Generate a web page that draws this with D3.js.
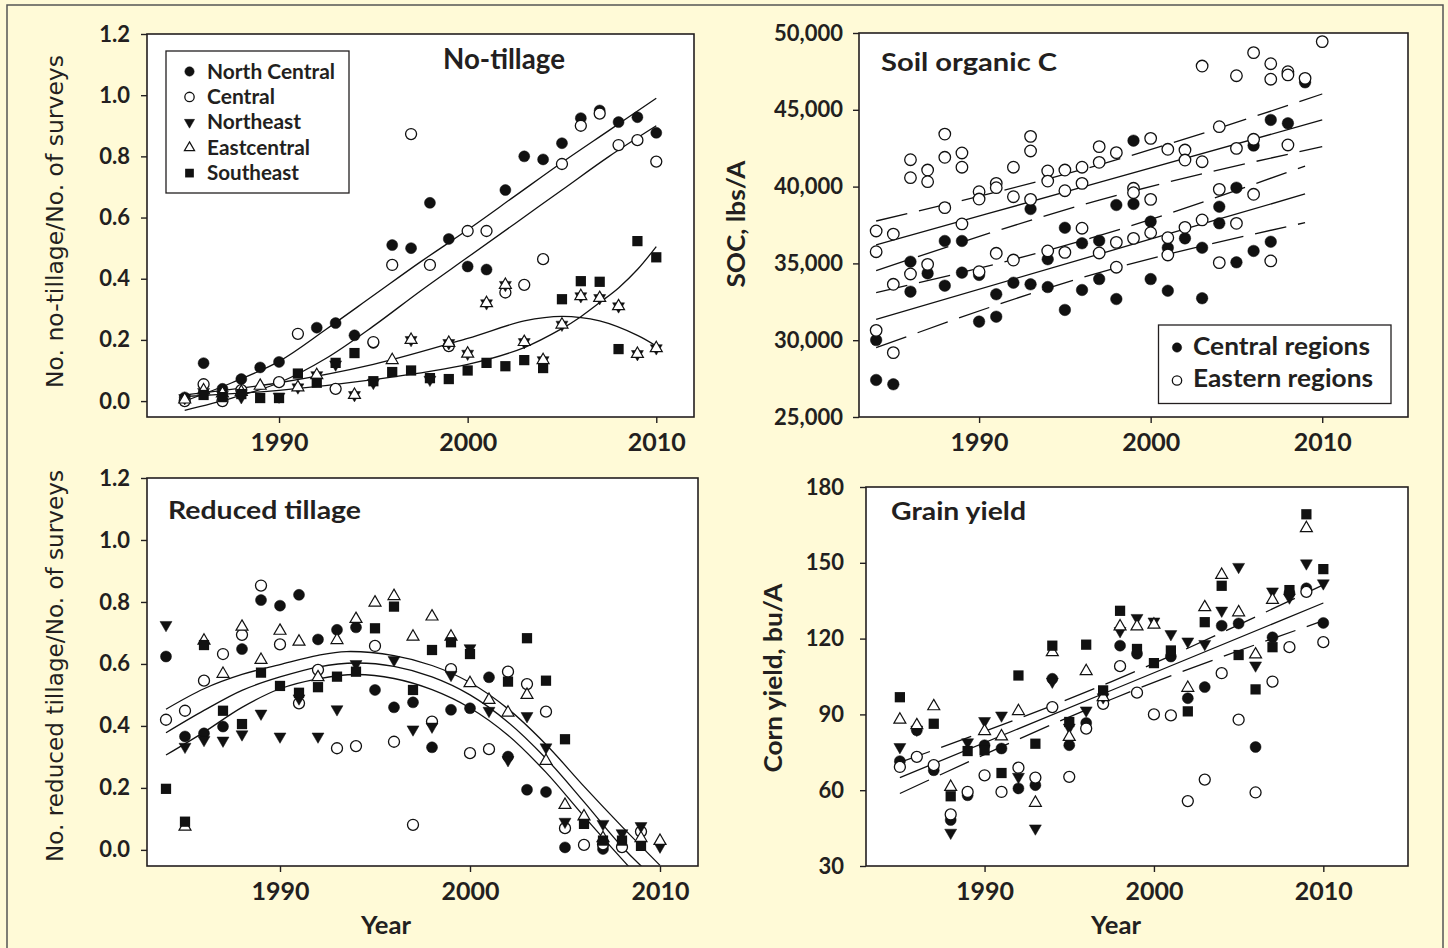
<!DOCTYPE html>
<html>
<head>
<meta charset="utf-8">
<script src="https://cdn.jsdelivr.net/npm/d3@7"></script>
<style>
  body { margin: 0; background: #fffad7; }
</style>
</head>
<body>
<svg width="1448" height="948"></svg>
<script>
// ---------- data: No-tillage (fraction of surveys) ----------
const ntYears = [1985, 1986, 1987, 1988, 1989, 1990, 1991, 1992, 1993, 1994, 1995, 1996, 1997,
  1998, 1999, 2000, 2001, 2002, 2003, 2004, 2005, 2006, 2007, 2008, 2009, 2010];
const ntNorthCentral = [0.012, 0.124, 0.04, 0.072, 0.11, 0.128, null, 0.24, 0.255, 0.215, 0.19, 0.51, 0.5,
  0.648, 0.53, 0.44, 0.43, 0.69, 0.8, 0.79, 0.843, 0.925, 0.95, 0.912, 0.928, 0.877];
const ntCentral = [0.0, 0.055, 0.0, 0.036, null, 0.062, 0.22, null, 0.04, null, 0.193, 0.445, 0.873,
  0.445, 0.18, 0.556, 0.556, 0.355, 0.38, 0.464, 0.775, 0.9, 0.94, 0.837, 0.853, 0.783];
const ntNortheast = [0.01, 0.03, 0.02, 0.013, null, 0.015, 0.045, 0.085, 0.12, 0.02, 0.06, null, 0.2,
  0.07, 0.19, 0.155, 0.32, 0.38, 0.193, 0.134, 0.25, 0.343, 0.337, 0.31, 0.154, 0.173];
const ntEastcentral = [0.005, 0.035, 0.025, 0.03, 0.05, null, 0.045, 0.085, null, 0.02, null, 0.134, 0.2,
  null, 0.19, 0.155, 0.32, 0.38, 0.193, 0.134, 0.25, 0.343, 0.337, 0.31, 0.154, 0.173];
const ntSoutheast = [null, 0.02, 0.013, 0.023, 0.01, 0.01, 0.09, 0.06, 0.125, 0.157, 0.065, 0.095, 0.1,
  0.075, 0.072, 0.1, 0.125, 0.114, 0.134, 0.108, 0.333, 0.392, 0.39, 0.17, 0.523, 0.47];
// fitted curves
const ntFitNC = [[1985, 0.0], [1987.5, 0.06], [1990, 0.13], [1992.5, 0.235], [1995, 0.345], [1997.5, 0.455],
  [2000, 0.56], [2002.5, 0.67], [2005, 0.78], [2007.5, 0.885], [2010, 0.99]];
const ntFitC = [[1985, -0.03], [1987.5, 0.01], [1990, 0.06], [1992.5, 0.14], [1995, 0.245], [1997.5, 0.36],
  [2000, 0.47], [2002.5, 0.58], [2005, 0.69], [2007.5, 0.8], [2010, 0.9]];
const ntFitHump = [[1985, 0.02], [1990, 0.06], [1995, 0.12], [2000, 0.205], [2003, 0.262], [2005, 0.277],
  [2007, 0.262], [2009, 0.215], [2010, 0.18]];
const ntFitSE = [[1985, 0.015], [1990, 0.035], [1995, 0.07], [2000, 0.12], [2003, 0.175], [2005, 0.237],
  [2006, 0.276], [2007, 0.322], [2008, 0.37], [2009, 0.43], [2010, 0.505]];

// ---------- data: Soil organic C (lbs/A) ----------
const socCentral = [[1984, 30010], [1984, 27410], [1985, 27130], [1986, 35110], [1986, 33160], [1987, 34350],
  [1988, 36460], [1988, 33550], [1989, 36460], [1989, 34400], [1990, 34250], [1990, 31210], [1991, 32990],
  [1991, 31530], [1992, 33740], [1993, 38540], [1993, 33640], [1994, 35270], [1994, 33460], [1995, 37320],
  [1995, 31970], [1996, 36310], [1996, 33270], [1997, 36480], [1997, 33980], [1998, 38800], [1998, 32680],
  [1999, 42990], [1999, 38870], [2000, 37720], [2000, 33980], [2001, 36020], [2001, 33220], [2002, 36630],
  [2003, 36020], [2003, 32730], [2004, 38690], [2004, 37610], [2005, 39930], [2005, 35070], [2006, 42670],
  [2006, 35810], [2007, 44340], [2007, 36410], [2008, 44120], [2009, 46790]];
const socEastern = [[1984, 37110], [1984, 35760], [1984, 30640], [1985, 36910], [1985, 33640], [1985, 29190],
  [1986, 41750], [1986, 40580], [1986, 34310], [1987, 41080], [1987, 40320], [1987, 34940], [1988, 43420],
  [1988, 41910], [1988, 38630], [1989, 42190], [1989, 41260], [1989, 37570], [1990, 39670], [1990, 39190],
  [1990, 34460], [1991, 40210], [1991, 39930], [1991, 35660], [1992, 41260], [1992, 39340], [1992, 35220],
  [1993, 43270], [1993, 42320], [1993, 39170], [1994, 41020], [1994, 40360], [1994, 35810], [1995, 41080],
  [1995, 39730], [1995, 35720], [1996, 41260], [1996, 40210], [1996, 37290], [1997, 42600], [1997, 41580],
  [1997, 35680], [1998, 42210], [1998, 36370], [1998, 34750], [1999, 39890], [1999, 39600], [1999, 36630],
  [2000, 43140], [2000, 39170], [2000, 37000], [2001, 42430], [2001, 36670], [2001, 35550], [2002, 42380],
  [2002, 41730], [2002, 37350], [2003, 47850], [2003, 41620], [2003, 37830], [2004, 43900], [2004, 39820],
  [2004, 35050], [2005, 47220], [2005, 42490], [2005, 37610], [2006, 48720], [2006, 43080], [2006, 39500],
  [2007, 48000], [2007, 46990], [2007, 35160], [2008, 47480], [2008, 47270], [2008, 42710], [2009, 47050],
  [2010, 49440]];
const socFitE = [[1984, 36200], [1997, 40270], [2010, 44340]];
const socBandEUp = [[1984, 37760], [1997, 41420], [2010, 46030]];
const socBandELo = [[1984, 34530], [1997, 39120], [2010, 42600]];
const socFitC = [[1984, 31360], [1996.5, 35440], [2009, 39520]];
const socBandCUp = [[1984, 33090], [1996.5, 36640], [2009, 41340]];
const socBandCLo = [[1984, 29510], [1996.5, 34240], [2009, 37650]];

// ---------- data: Reduced tillage ----------
const rtYears = [1984, 1985, 1986, 1987, 1988, 1989, 1990, 1991, 1992, 1993, 1994, 1995, 1996, 1997,
  1998, 1999, 2000, 2001, 2002, 2003, 2004, 2005, 2006, 2007, 2008, 2009, 2010];
const rtNorthCentral = [0.624, 0.366, 0.376, 0.398, 0.648, 0.806, 0.788, 0.823, 0.679, 0.71, 0.718, 0.516, 0.46,
  0.476, 0.331, 0.452, 0.457, 0.557, 0.301, 0.194, 0.187, 0.008, null, 0.003, null, null, null];
const rtCentral = [0.42, 0.449, 0.546, 0.632, 0.694, 0.853, 0.663, 0.473, 0.581, 0.328, 0.335, 0.658, 0.349,
  0.081, 0.414, 0.583, 0.312, 0.325, 0.575, 0.535, 0.446, 0.07, 0.016, 0.018, 0.009, 0.059, null];
const rtNortheast = [0.726, 0.333, 0.355, 0.353, 0.373, 0.44, 0.366, 0.489, 0.366, 0.454, 0.6, null, 0.613,
  0.389, 0.398, 0.565, 0.651, 0.449, 0.29, 0.432, 0.331, 0.091, null, 0.084, 0.054, 0.077, 0.011];
const rtEastcentral = [null, 0.075, 0.675, 0.568, 0.72, 0.613, 0.707, 0.672, 0.557, 0.677, 0.745, 0.798, 0.819,
  0.688, 0.753, 0.688, 0.538, 0.484, 0.443, 0.5, 0.287, 0.145, 0.108, 0.038, null, 0.038, 0.029];
const rtSoutheast = [0.197, 0.091, 0.661, 0.449, 0.406, 0.572, 0.529, 0.507, 0.525, 0.559, 0.575, 0.715, 0.785,
  0.516, 0.645, 0.67, 0.632, null, 0.543, 0.683, 0.546, 0.357, 0.084, 0.03, 0.03, 0.013, null];
const rtFitUpper = [[1984, 0.454], [1986, 0.52], [1988, 0.566], [1990, 0.598], [1992, 0.628], [1993.5, 0.64],
  [1996, 0.627], [1998, 0.595], [2000, 0.54], [2002, 0.455], [2004, 0.34], [2006, 0.205], [2008, 0.075], [2010, -0.05]];
const rtFitMid = [[1984, 0.378], [1986, 0.45], [1988, 0.515], [1990, 0.558], [1992, 0.59], [1994, 0.603],
  [1996, 0.592], [1998, 0.558], [2000, 0.5], [2002, 0.412], [2004, 0.295], [2006, 0.155], [2008, 0.01], [2009.5, -0.08]];
const rtFitLower = [[1984, 0.306], [1986, 0.38], [1988, 0.46], [1990, 0.52], [1992, 0.552], [1994, 0.566],
  [1996, 0.553], [1998, 0.517], [2000, 0.458], [2002, 0.37], [2004, 0.25], [2006, 0.108], [2008, -0.03], [2008.6, -0.07]];

// ---------- data: Grain yield (bu/A) ----------
const gyYears = ntYears;
const gyNorthCentral = [71.5, 83.7, 67.9, 48.2, 58, 77.8, 76.5, 60.7, 62, 104.1, 77.8, 86.6, null,
  117.2, 114, null, 112.9, 96.4, 100.8, 125.1, 126, 77.1, 120.5, 138, 139.9, 126.2];
const gyCentral = [69.2, 73.2, 69.9, 50.4, 59.3, 65.9, 59.3, 68.9, 65, 92.9, 65.3, 84.4, 94.2,
  109.1, 98.6, 90, 89.6, 55.7, 64.2, 106.3, 87.9, 59.1, 103, 116.6, 138.5, 118.6];
const gyNortheast = [77.1, 84, null, 43.2, 79, 87.4, 89.6, 65.3, 44.9, 103, 84.8, 91.6, 96.8,
  123, 128.2, 126.8, 121.8, 118.9, 117.9, 131.1, 148.4, 109.4, 138.7, 136.3, 149.8, 141.9];
const gyEastcentral = [87.9, 85.7, 93.2, 61.3, null, 83.4, 81.3, 91.3, 55, 114.6, 81.1, 107.1, 96.8,
  124.8, 124.8, 125.5, null, 100.5, 132.4, 145.2, 130.4, 113.7, 135.3, null, 163.7, null];
const gySoutheast = [96.8, null, 86.3, 57.6, 75.5, 75.8, 66.8, 105.4, 78.4, 117.2, 87, 117.6, 99.5,
  131, 115.9, 110.3, 115.3, 91.2, 126.5, 140.9, 113.5, 99.9, 116.6, 139.2, 169.2, 147.5];
const gyFit = [[1985, 65], [1997.5, 99.55], [2010, 134.1]];
const gyBandUp = [[1985, 71], [1997.5, 103], [2010, 141.3]];
const gyBandLo = [[1985, 58.7], [1997.5, 96], [2010, 127.1]];

const xTickYears = [1990, 2000, 2010];
const fracTicks = [0, 0.2, 0.4, 0.6, 0.8, 1.0, 1.2];
const socTicks = [25000, 30000, 35000, 40000, 45000, 50000];
const yieldTicks = [30, 60, 90, 120, 150, 180];
const regionNames = ["North Central", "Central", "Northeast", "Eastcentral", "Southeast"];

// ---------- drawing ----------
const svg = d3.select("svg");
const ink = "#231f20";
const font = "Lato, 'Open Sans', sans-serif";

// outer frame of the figure
svg.append("rect").attr("x", 7).attr("y", 5).attr("width", 1436).attr("height", 960)
  .attr("fill", "#fffad7").attr("stroke", "#555").attr("stroke-width", 1.5);

function makePanel(p) {
  const x = d3.scaleLinear().domain(p.xDomain).range([p.left, p.right]);
  const y = d3.scaleLinear().domain(p.yDomain).range([p.bottom, p.top]);
  const g = svg.append("g");
  g.append("rect").attr("x", p.left).attr("y", p.top)
    .attr("width", p.right - p.left).attr("height", p.bottom - p.top).attr("fill", "white");
  svg.append("clipPath").attr("id", "clip-" + p.id).append("rect")
    .attr("x", p.left).attr("y", p.top).attr("width", p.right - p.left).attr("height", p.bottom - p.top);

  const xa = g.append("g").attr("transform", `translate(0,${p.bottom})`)
    .call(d3.axisBottom(x).tickValues(xTickYears).tickSize(6).tickPadding(10).tickFormat(d3.format("d")));
  const ya = g.append("g").attr("transform", `translate(${p.left},0)`)
    .call(d3.axisLeft(y).tickValues(p.yTicks).tickSize(6).tickPadding(p.pad).tickFormat(p.fmt));
  [xa, ya].forEach((a) => {
    a.select(".domain").remove();
    a.selectAll("line").attr("stroke", ink).attr("stroke-width", 1.4);
    a.selectAll("text").style("font-family", font).style("font-weight", 700).style("fill", ink);
  });
  xa.selectAll("text").style("font-size", "25px");
  ya.selectAll("text").style("font-size", "22px");

  const lines = g.append("g").attr("clip-path", `url(#clip-${p.id})`);
  const marks = g.append("g");
  const frame = () => g.append("rect").attr("x", p.left).attr("y", p.top)
    .attr("width", p.right - p.left).attr("height", p.bottom - p.top)
    .attr("fill", "none").attr("stroke", ink).attr("stroke-width", 1.6);
  return { x, y, g, lines, marks, frame };
}

function drawLine(panel, pts, dashed, curve) {
  const line = d3.line().x((d) => panel.x(d[0])).y((d) => panel.y(d[1])).curve(curve || d3.curveNatural);
  panel.lines.append("path").attr("d", line(pts)).attr("fill", "none")
    .attr("stroke", "#111").attr("stroke-width", 1.3)
    .attr("stroke-dasharray", dashed ? "32,12" : null);
}

// one marker at pixel position
function mark(g, kind, px, py, k) {
  k = k || 1;
  if (kind === 0 || kind === 1) {
    g.append("circle").attr("cx", px).attr("cy", py).attr("r", 5.5 * k)
      .attr("fill", kind === 0 ? "#111" : "white").attr("stroke", "#111").attr("stroke-width", kind === 0 ? 0.5 : 1.3);
  } else if (kind === 2 || kind === 3) {
    g.append("path").attr("d", d3.symbol().type(d3.symbolTriangle).size(62 * k * k)())
      .attr("transform", `translate(${px},${py})` + (kind === 2 ? " rotate(180)" : ""))
      .attr("fill", kind === 2 ? "#111" : "white").attr("stroke", "#111").attr("stroke-width", kind === 2 ? 0.5 : 1.2);
  } else {
    g.append("path").attr("d", d3.symbol().type(d3.symbolSquare).size(105 * k * k)())
      .attr("transform", `translate(${px},${py})`).attr("fill", "#111");
  }
}

function drawRegions(panel, years, series) {
  series.forEach((vals, kind) => {
    years.forEach((yr, i) => {
      if (vals[i] !== null) mark(panel.marks, kind, panel.x(yr), panel.y(vals[i]));
    });
  });
}

function label(txt, x, y, size, len, opts) {
  opts = opts || {};
  const t = svg.append("text").attr("x", x).attr("y", y).text(txt)
    .style("font-family", opts.family || font).style("font-size", size + "px")
    .style("font-weight", opts.weight || 700).style("fill", ink)
    .attr("text-anchor", opts.anchor || "start");
  if (len) t.attr("textLength", len).attr("lengthAdjust", "spacingAndGlyphs");
  if (opts.rotate) t.attr("x", 0).attr("y", 0).attr("transform", `translate(${x},${y}) rotate(-90)`);
  return t;
}

// ---- Panel 1: No-tillage
const p1 = makePanel({ id: "nt", left: 147, right: 694, top: 34, bottom: 417,
  xDomain: [1983, 2012], yDomain: [-0.052, 1.2], yTicks: fracTicks, fmt: d3.format(".1f"), pad: 11 });
[ntFitNC, ntFitC, ntFitHump, ntFitSE].forEach((f) => drawLine(p1, f, false, d3.curveCatmullRom));
drawRegions(p1, ntYears, [ntNorthCentral, ntCentral, ntNortheast, ntEastcentral, ntSoutheast]);
p1.frame();
svg.append("rect").attr("x", 166).attr("y", 51).attr("width", 183).attr("height", 142)
  .attr("fill", "white").attr("stroke", ink).attr("stroke-width", 1.3);
const legLens = [128, 68, 94, 103, 92];
regionNames.forEach((name, i) => {
  const cy = 71.5 + i * 25.4;
  mark(svg, i, 189.5, cy, 0.85);
  label(name, 207, cy + 7, 20, legLens[i]);
});
label("No-tillage", 504, 68.5, 28, 122, { anchor: "middle" });

// ---- Panel 2: Soil organic C
const p2 = makePanel({ id: "soc", left: 859, right: 1408, top: 33, bottom: 417,
  xDomain: [1983, 2015], yDomain: [25000, 50000], yTicks: socTicks, fmt: d3.format(","), pad: 10 });
drawLine(p2, socFitE, false);
drawLine(p2, socBandEUp, true);
drawLine(p2, socBandELo, true);
drawLine(p2, socFitC, false);
drawLine(p2, socBandCUp, true);
drawLine(p2, socBandCLo, true);
socCentral.forEach((d) => mark(p2.marks, 0, p2.x(d[0]), p2.y(d[1]), 1.05));
socEastern.forEach((d) => mark(p2.marks, 1, p2.x(d[0]), p2.y(d[1]), 1.05));
p2.frame();
svg.append("rect").attr("x", 1158.5).attr("y", 325).attr("width", 232.5).attr("height", 78.5)
  .attr("fill", "white").attr("stroke", ink).attr("stroke-width", 1.3);
mark(svg, 0, 1177, 347.5, 0.85);
mark(svg, 1, 1177, 380.5, 0.85);
label("Central regions", 1193, 355, 25, 177);
label("Eastern regions", 1193, 387, 25, 180);
label("Soil organic C", 881, 71, 25, 176);

// ---- Panel 3: Reduced tillage
const p3 = makePanel({ id: "rt", left: 147, right: 698, top: 478, bottom: 866,
  xDomain: [1983, 2012], yDomain: [-0.052, 1.2], yTicks: fracTicks, fmt: d3.format(".1f"), pad: 11 });
[rtFitUpper, rtFitMid, rtFitLower].forEach((f) => drawLine(p3, f, false, d3.curveCatmullRom));
drawRegions(p3, rtYears, [rtNorthCentral, rtCentral, rtNortheast, rtEastcentral, rtSoutheast]);
p3.frame();
label("Reduced tillage", 168, 518.5, 25, 193);

// ---- Panel 4: Grain yield
const p4 = makePanel({ id: "gy", left: 866, right: 1408, top: 487, bottom: 866,
  xDomain: [1983, 2015], yDomain: [30, 180], yTicks: yieldTicks, fmt: d3.format("d"), pad: 16 });
drawLine(p4, gyFit, false);
drawLine(p4, gyBandUp, true);
drawLine(p4, gyBandLo, true);
drawRegions(p4, gyYears, [gyNorthCentral, gyCentral, gyNortheast, gyEastcentral, gySoutheast]);
p4.frame();
label("Grain yield", 891, 519.5, 24, 135);

// ---- axis titles
const narrow = "'Liberation Sans Narrow', 'DejaVu Sans Condensed', sans-serif";
label("No. no-tillage/No. of surveys", 63, 221.5, 23, 333, { anchor: "middle", rotate: true, family: narrow, weight: 400 });
label("No. reduced tillage/No. of surveys", 63, 666, 23, 392, { anchor: "middle", rotate: true, family: narrow, weight: 400 });
label("SOC, lbs/A", 745, 224, 24, 127, { anchor: "middle", rotate: true });
label("Corn yield, bu/A", 782, 678, 24, 189, { anchor: "middle", rotate: true });
label("Year", 386, 934, 24, 50, { anchor: "middle" });
label("Year", 1116, 934, 24, 50, { anchor: "middle" });
</script>
</body>
</html>
